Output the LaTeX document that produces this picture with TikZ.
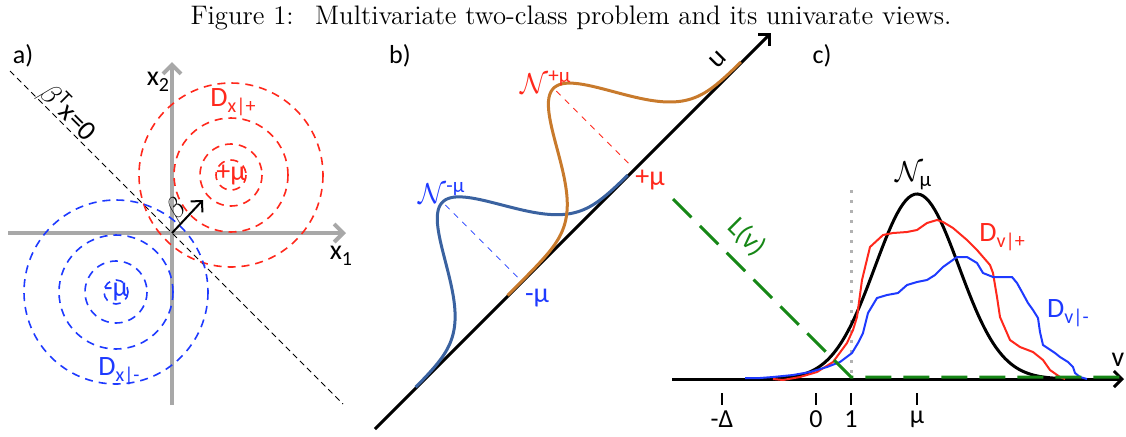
\documentclass[tikz,border=0pt]{standalone}
\usepackage{fontspec}
\setsansfont{Carlito}
\usepackage{amsmath}
\usepackage{xcolor}
\usetikzlibrary{arrows.meta}
\definecolor{axgray}{RGB}{168,168,168}
\definecolor{redc}{RGB}{255,40,28}
\definecolor{bluec}{RGB}{30,58,255}
\definecolor{orangec}{RGB}{200,122,44}
\definecolor{steelc}{RGB}{58,98,160}
\definecolor{greenc}{RGB}{22,135,22}
\newcommand{\lsub}[1]{\raisebox{-0.45ex}{\fontsize{10}{10}\selectfont #1}}

\begin{document}
\begin{tikzpicture}[x=0.5pt,y=-0.5pt,>={Straight Barb[length=4pt,width=8pt]},
	lab/.style={font=\sffamily\fontsize{14}{16}\selectfont,inner sep=0pt},
	panel/.style={font=\sffamily\fontsize{13}{15}\selectfont,inner sep=0pt},
	cal/.style={font=\sffamily\fontsize{15}{17}\selectfont,inner sep=0pt},
	gaxis/.style={draw=axgray,line width=2pt,-{Straight Barb[length=4.5pt,width=9pt]}},
	ring/.style={dash pattern=on 4pt off 3pt,line width=0.8pt},
	declare function={gauss(\x,\m,\h)=\h*exp(-0.5*((\x-\m)/40)^2);}]
	\useasboundingbox (0,0) rectangle (1126,436);
	
	\node[font=\fontsize{13.4}{16}\selectfont] (title) at (571,18) {Figure 1:\hspace{0.8em}Multivariate two-class problem and its univarate views.};
	
%	a) two classes in the plane
	\node[panel] (pa) at (23,56) {a)};
	\coordinate (o) at (172,233);
	\coordinate (cp) at (231,175);
	\coordinate (cm) at (116,292);
	\draw[gaxis] (8,233) -- (346,233);
	\draw[gaxis] (172,405) -- (172,62);
	\node[lab] (x1) at (341,256) {x\lsub{1}};
	\node[lab] (x2) at (158,82) {x\lsub{2}};
	\draw[densely dashed,line width=0.4pt] (10,71) -- (343,404);
	\node[lab,rotate=-45] (hyp) at (68,112) {$\beta$\textsuperscript{T}x=0};
	
	\foreach \r in {15,31,57,92}
	\draw[ring,redc] (cp) circle (\r);
	\foreach \r in {12,31,57,92}
	\draw[ring,bluec] (cm) circle (\r);
	\node[lab,redc] (mp) at (cp) {+μ};
	\node[lab,bluec] (mm) at (cm) {-μ};
	\node[lab,redc] (dxp) at (233,102) {D\lsub{x|+}};
	\node[lab,bluec] (dxm) at (119,371) {D\lsub{x|-}};
	
	\coordinate (bt) at (203,200);
	\draw[line width=1pt,->] (o) -- (bt);
	\node[lab,rotate=45] (bl) at (177,210) {$\beta$};
	
%	b) projection on u
	\def\mup{329}
	\def\mum{170}
	\node[panel] (pb) at (400,56) {b)};
	\coordinate (u0) at (375,429);
	\coordinate (u1) at (771,33);
	\draw[line width=1.5pt,->] (u0) -- (u1);
	\node[lab,rotate=45] (ul) at (718,60) {u};
	
	\draw[steelc,line width=1.5pt] plot[domain=20:320,samples=120] ({401.5+(\x-gauss(\x,\mum,112))/1.4142},{401.5-(\x+gauss(\x,\mum,112))/1.4142});
	\draw[orangec,line width=1.5pt] plot[domain=150:480,samples=120] ({401.5+(\x-gauss(\x,\mup,114))/1.4142},{401.5-(\x+gauss(\x,\mup,114))/1.4142});
	\draw[redc,dashed,line width=0.4pt] ({401.5+(\mup-8)/1.4142},{401.5-(\mup+8)/1.4142}) -- ({401.5+(\mup-114)/1.4142},{401.5-(\mup+114)/1.4142});
	\draw[bluec,dashed,line width=0.4pt] ({401.5+(\mum-6)/1.4142},{401.5-(\mum+6)/1.4142}) -- ({401.5+(\mum-112)/1.4142},{401.5-(\mum+112)/1.4142});
	
	\node[cal,redc] (np) at (546,82) {$\mathcal{N}^{\text{+μ}}$};
	\node[cal,bluec] (nm) at (442,193) {$\mathcal{N}^{\text{-μ}}$};
	\node[lab,redc] (up) at (650,180) {+μ};
	\node[lab,bluec] (um) at (537,298) {-μ};
	
%	c) univariate view on v
	\node[panel] (pc) at (822,56) {c)};
	\coordinate (v0) at (672,379);
	\coordinate (v1) at (1124,379);
	\draw[line width=1.5pt,->] (v0) -- (v1);
	\node[lab] (vl) at (1118,360) {v};
	\foreach \t/\l in {722/-Δ,816/0,851/1,917/μ}{
		\draw[line width=0.8pt] (\t,393) -- (\t,405);
		\node[lab,font=\sffamily\fontsize{13}{14}\selectfont] (tk\t) at (\t,419) {\l};
	}
	\draw[gray!60,line width=1.5pt,dash pattern=on 1.5pt off 3.5pt] (851,190) -- (851,377);
	
	\draw[line width=1.5pt] plot[domain=772:1060,samples=100] (\x,{379-185*exp(-0.5*((\x-917)/42)^2)});
	\draw[redc,line width=1pt,line join=round] plot coordinates {(773,379) (783,380) (800,377) (817,372) (833,362) (847,343) (853,330) (857,317) (862,280) (870,247) (883,235) (893,233) (907,232) (917,230) (927,223) (937,220) (943,222) (953,228) (967,240) (977,250) (990,265) (993,273) (997,297) (1000,317) (1010,340) (1020,347) (1033,352) (1043,360) (1050,370) (1060,377) (1065,379)};
	\draw[bluec,line width=1pt,line join=round] plot coordinates {(745,378) (760,378) (773,377) (793,375) (810,372) (827,367) (840,362) (852,353) (858,343) (863,333) (868,313) (877,298) (887,295) (898,293) (907,285) (917,282) (927,280) (935,275) (943,267) (950,262) (957,257) (967,257) (977,263) (983,273) (993,277) (1012,277) (1017,283) (1022,292) (1028,303) (1033,310) (1038,318) (1040,332) (1043,345) (1055,353) (1060,357) (1068,362) (1073,367) (1075,373) (1080,377) (1087,379)};
	\draw[greenc,line width=1.5pt,dash pattern=on 13pt off 6pt] (673,199) -- (851,377) -- (1120,377);
	\node[lab,greenc,rotate=-45] (lv) at (747,237) {L(v)};
	
	\node[cal] (nmu) at (914,176) {$\mathcal{N}_{\text{μ}}$};
	\node[lab,redc] (dvp) at (1002,237) {D\lsub{v|+}};
	\node[lab,bluec] (dvm) at (1068,313) {D\lsub{v|-}};
\end{tikzpicture}
\end{document}
